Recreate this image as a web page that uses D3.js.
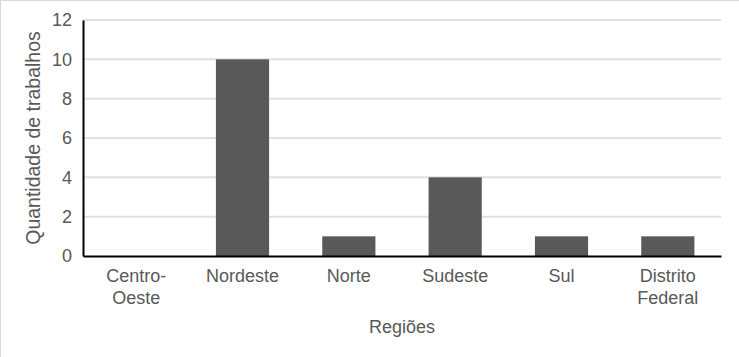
<!DOCTYPE html>
<html>
<head>
<meta charset="utf-8">
<script src="https://cdn.jsdelivr.net/npm/d3@7"></script>
<style>
  body { margin: 0; background: #fff; }
  svg { display: block; font-family: "Liberation Sans", Arial, sans-serif; }
  .axis text { fill: #595959; font-size: 18px; }
</style>
</head>
<body>
<svg id="chart" width="739" height="357"></svg>
<script>
// dados do grafico
var regioes = ["Centro-Oeste", "Nordeste", "Norte", "Sudeste", "Sul", "Distrito Federal"];
var rotulos = [["Centro-", "Oeste"], ["Nordeste"], ["Norte"], ["Sudeste"], ["Sul"], ["Distrito", "Federal"]];
var trabalhos = [0, 10, 1, 4, 1, 1];
var yTicks = [0, 2, 4, 6, 8, 10, 12];

var svg = d3.select("#chart"),
    margin = {top: 20, right: 18, bottom: 101, left: 83},
    width = +svg.attr("width") - margin.left - margin.right,
    height = +svg.attr("height") - margin.top - margin.bottom;

// borda clara do grafico (topo e esquerda)
svg.append("line").attr("x1", 0).attr("x2", 739).attr("y1", 0.5).attr("y2", 0.5)
    .attr("stroke", "#d9d9d9");
svg.append("line").attr("x1", 0.5).attr("x2", 0.5).attr("y1", 0).attr("y2", 357)
    .attr("stroke", "#d9d9d9");

var x = d3.scaleBand().domain(regioes).range([0, width]).paddingInner(0.5).paddingOuter(0.25),
    y = d3.scaleLinear().domain([0, 12]).range([height, 0]);

var g = svg.append("g")
    .attr("transform", "translate(" + margin.left + "," + margin.top + ")");

// linhas de grade
g.selectAll(".grid")
    .data(yTicks.filter(function (d) { return d > 0; }))
    .enter().append("line")
    .attr("class", "grid")
    .attr("x1", 0)
    .attr("x2", width)
    .attr("y1", function (d) { return y(d); })
    .attr("y2", function (d) { return y(d); })
    .attr("stroke", "#e0e0e0")
    .attr("stroke-width", 2);

// barras
g.selectAll(".bar")
    .data(trabalhos)
    .enter().append("rect")
    .attr("class", "bar")
    .attr("x", function (d, i) { return x(regioes[i]); })
    .attr("y", function (d) { return y(d); })
    .attr("width", x.bandwidth())
    .attr("height", function (d) { return height - y(d); })
    .attr("fill", "#595959");

// eixo y
var yAxis = g.append("g")
    .attr("class", "axis axis--y")
    .call(d3.axisLeft(y).tickValues(yTicks).tickSize(0).tickPadding(11));
yAxis.select(".domain").attr("stroke", "#000").attr("stroke-width", 2);

// eixo x
var xAxis = g.append("g")
    .attr("class", "axis axis--x")
    .attr("transform", "translate(0," + height + ")")
    .call(d3.axisBottom(x).tickSize(0).tickFormat(""));
xAxis.select(".domain").attr("stroke", "#000").attr("stroke-width", 2);

xAxis.selectAll(".tick").each(function (d, i) {
    var t = d3.select(this).append("text")
        .attr("text-anchor", "middle")
        .attr("y", 26);
    rotulos[i].forEach(function (linha, j) {
        t.append("tspan").attr("x", 0).attr("dy", j === 0 ? 0 : 22).text(linha);
    });
});

// titulos
g.append("text")
    .attr("x", width / 2)
    .attr("y", height + 77)
    .attr("text-anchor", "middle")
    .attr("fill", "#595959")
    .style("font-size", "18px")
    .text("Regiões");

g.append("text")
    .attr("transform", "rotate(-90)")
    .attr("x", -height / 2)
    .attr("y", -43)
    .attr("text-anchor", "middle")
    .attr("fill", "#595959")
    .style("font-size", "19.5px")
    .text("Quantidade de trabalhos");
</script>
</body>
</html>
